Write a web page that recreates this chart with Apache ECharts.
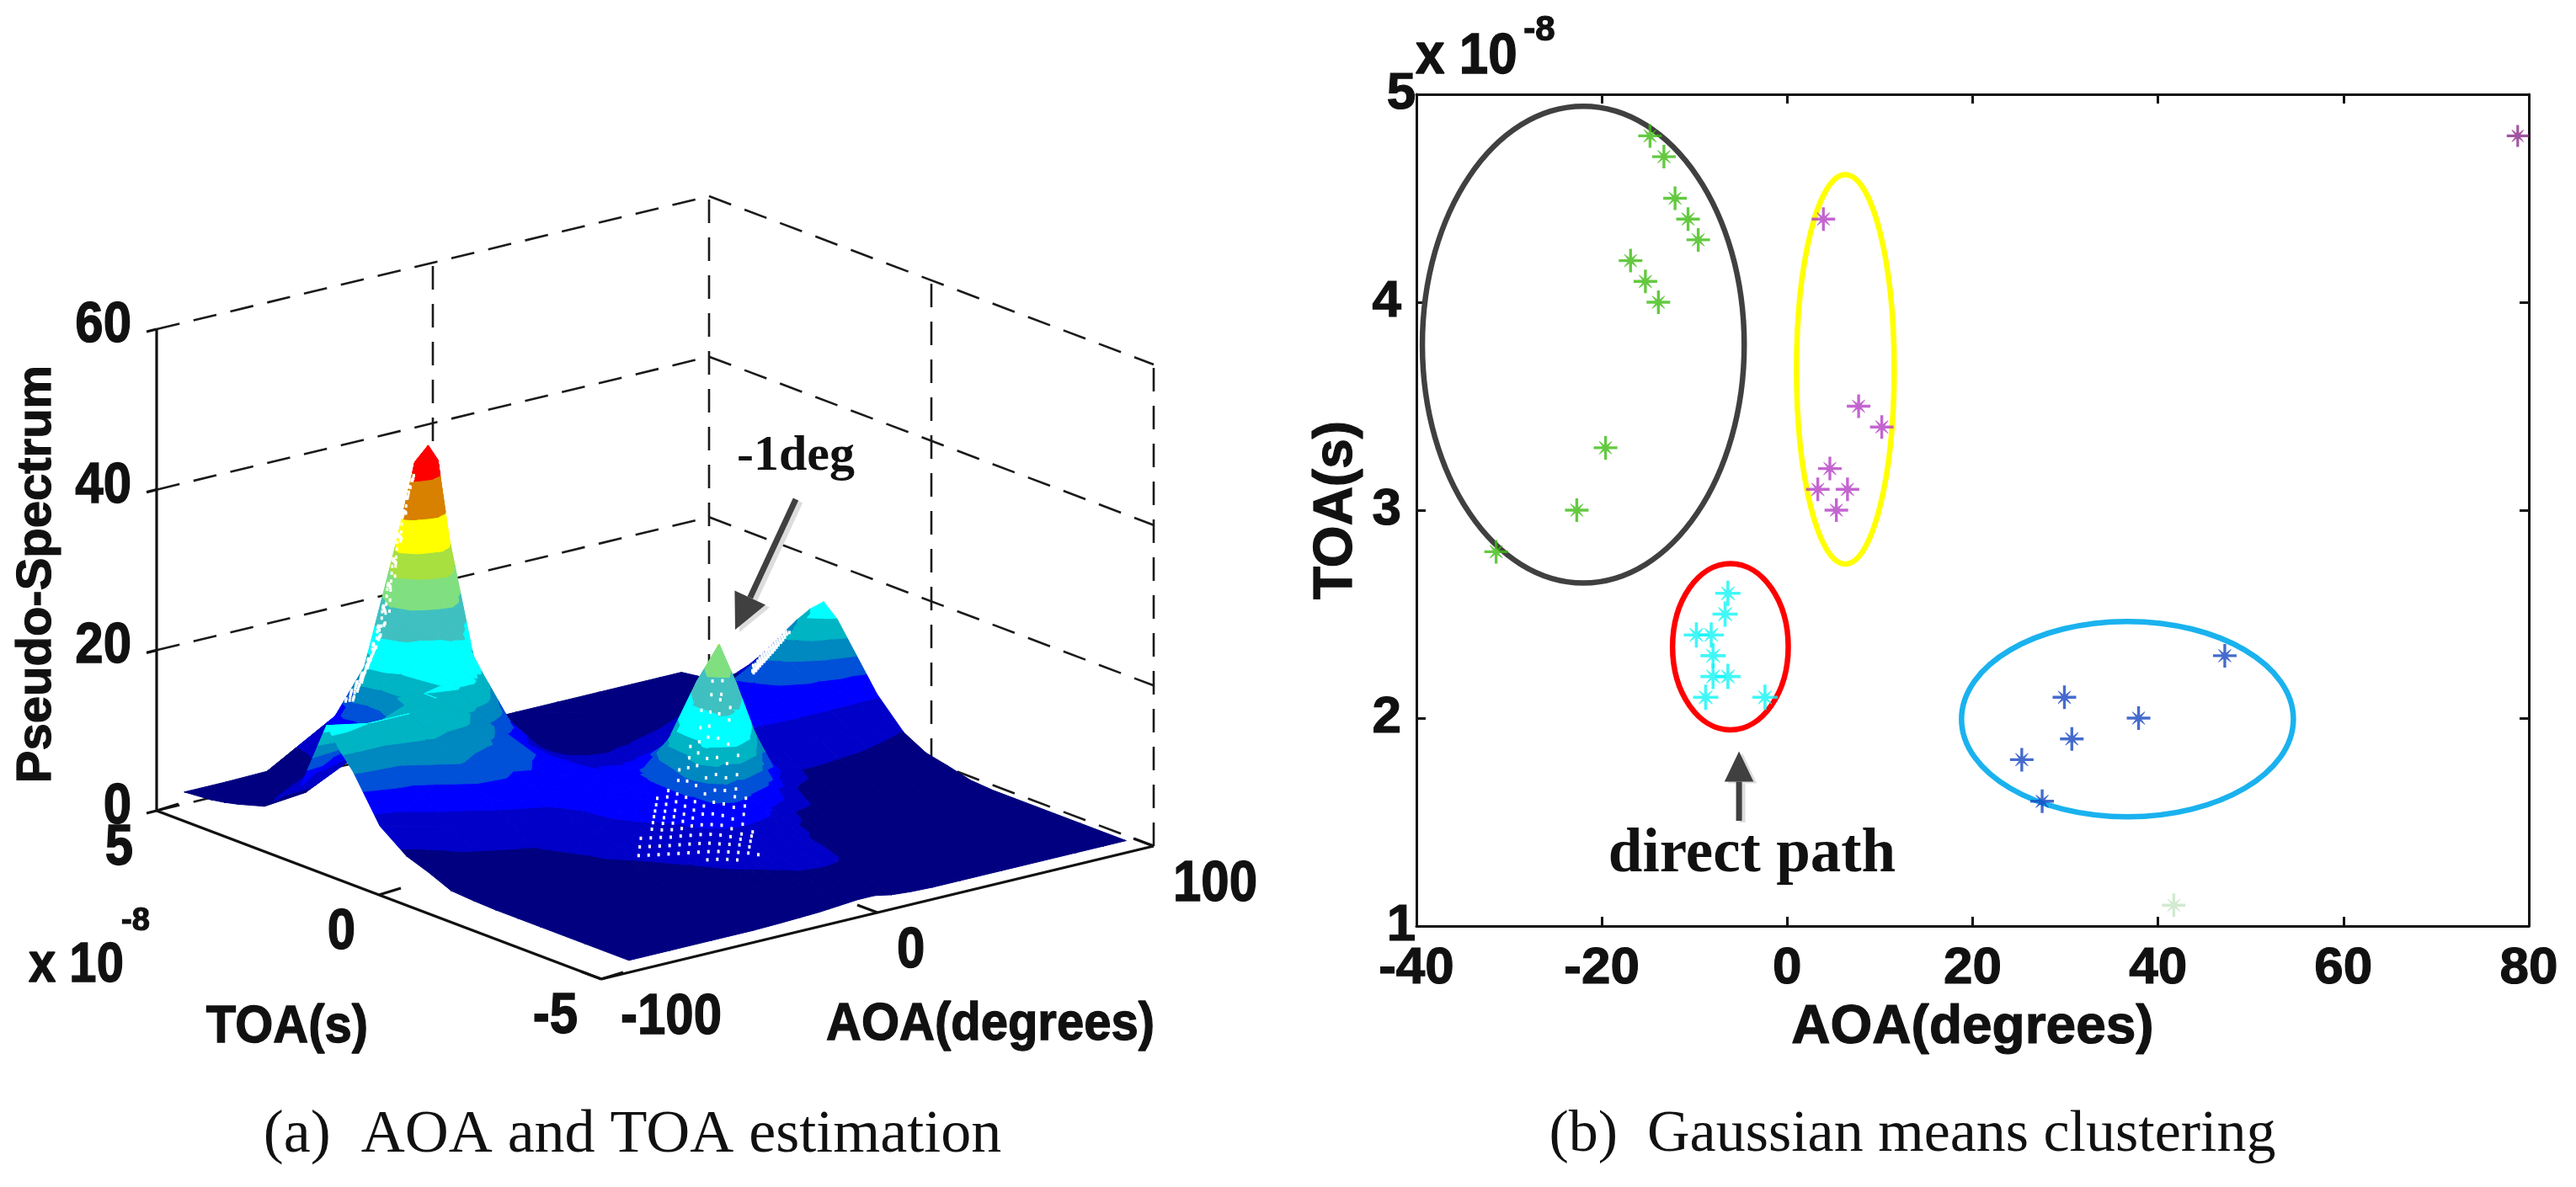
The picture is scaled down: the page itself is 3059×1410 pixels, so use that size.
<!DOCTYPE html>
<html><head><meta charset="utf-8">
<style>html,body{margin:0;padding:0;background:#fff}#c{width:3059px;height:1410px}</style>
<script src="https://cdn.jsdelivr.net/npm/echarts@6/dist/echarts.min.js"></script>
</head><body><div id="c"></div>
<script>
// ---------- (a) surface data ----------
const aoaGrid = [-90,-75,-60,-45,-35,-28,-24.5,-21,-17.5,-14,-7,-1,5,12,20,30,45,60,72,82,90];
const toaGrid = [5,4.4,4.1,3.8,3.5,3.2,2.4,2.1,1.8,1.5,1.2,0.6,0,-0.5,-1,-1.5,-2,-2.5,-3,-4,-5];
const spectrum = [
[1.5,1.5,1.6,2,3,5,6,7,6,5,3,2,1.6,1.5,1.5,1.5,1.5,1.5,1.5,1.5,1.5],
[1.8,1.9,2.5,8.5,13,18.7,23.6,28.6,28,25,14,4,2,1.7,1.6,1.5,1.5,1.5,1.6,1.7,2],
[2.1,2.4,3.5,10,16.9,28.9,33.7,38.8,37,31,14,5,2.5,1.8,1.7,1.6,1.5,1.5,1.7,2.1,2.7],
[2.5,3,5,14,22,36.7,40,41.5,39.4,30.3,15.6,8,4,2,1.7,1.6,1.5,1.6,1.8,2.6,3.8],
[3,3.5,5.5,13,20,26,28,30,27,20,10.5,6,3.5,2.2,1.8,1.6,1.5,1.7,2.2,3.3,5.5],
[3.5,4,6.5,13,17,18,20,21,18,13,7,4.5,3,2.5,2,1.7,1.6,1.8,2.8,4.5,7.5],
[7.5,11,13.5,15.5,16,16,15,13.5,11.5,9.5,6,4.5,3.8,3.4,3,2.8,3,4.5,7.5,10.5,13.5],
[12,13.5,14.5,15.5,15,14,13,11.5,9.5,8,6,4.8,4.2,3.9,3.8,4,5,7,10,13,15.5],
[16.5,15.5,15.5,15,13,11,10,9,8,7,6,5.2,4.8,4.6,5,6,8,10.5,13,15,17],
[14,14,14.5,14,12,10.5,9.5,8.8,8,7,6,5.4,5,4.8,5.1,6,8,10,12,14,15.5],
[12,12.5,13.5,12.5,11,10,9,8.5,7.8,7,6,5.6,5.2,5,5.2,6,8,9.5,11,12,13],
[6.5,9,11.8,10.5,10,9.5,9,8.5,8,7.5,7,7,6.5,7,7.5,7.5,7.8,8,8,8,8],
[4,6.5,8.5,9,9.5,9,8.8,8.5,8.2,8,8.5,9,10,11,10.5,9,6.5,6,5.5,5,4.5],
[3,5,6.5,8,9,9,9,9,9,9,10,12.5,14,14.5,11,7,4.6,4.3,4,3.5,3],
[1.8,2.5,4.5,7,9,9,9.2,9.5,10.5,12,15.5,20.5,23,18,11,5.2,3.8,3.4,3.2,2.8,2.4],
[1.6,2,3.5,6.5,8.8,9,9.4,9.8,11.5,13,21,26.2,21,14,8,4.5,2.5,2,1.8,1.7,1.7],
[1.5,1.7,3,5.5,7.5,8,8.6,9.8,13,16,20.5,18,13,6.5,4.2,3,2,1.7,1.6,1.5,1.5],
[1.5,1.6,2.2,4,6,7.5,8.5,9.5,10.5,11.5,10.5,8.5,6.5,4.6,3,2,1.6,1.5,1.5,1.5,1.5],
[1.5,1.5,1.7,2.8,4.6,6,6.5,7,7,7,6.5,5.8,5,3.8,2.5,1.8,1.5,1.5,1.5,1.5,1.5],
[1.5,1.5,1.5,1.8,2.6,3.2,3.6,4,4.5,5,5.2,5,4.2,2.8,2,1.6,1.5,1.5,1.5,1.5,1.5],
[1.5,1.5,1.5,1.5,1.6,1.7,1.75,1.8,1.9,2,2.2,2.2,1.8,1.6,1.5,1.5,1.5,1.5,1.5,1.5,1.5]
];
const bandLevels = [0,4.6,7.7,10,11.8,13.6,15.5,19,22.5,26,29,33,37.5,99];
const bandColors = ['#000080','#0000c8','#0000ff','#0050d8','#0088c0','#00b4c4','#00ffff','#40c0c0','#80e080','#a8e040','#ffff00','#d88000','#ff0000'];
const zTicks3d = [0,20,40,60];
const aoaTicks3d = [-100,0,100];
const toaTicks3d = [-5,0,5];

// ---------- (b) clusters ----------
const greenAoa = [-14.8,-13.3,-12.1,-10.7,-9.6,-16.9,-15.3,-13.9,-19.6,-22.7,-31.4];
const greenToa = [4.8,4.7,4.5,4.4,4.3,4.2,4.1,4.0,3.3,3.0,2.8];
const magentaAoa = [3.9,7.7,10.2,4.6,3.3,6.5,5.3];
const magentaToa = [4.4,3.5,3.4,3.2,3.1,3.1,3.0];
const purpleAoa = [78.8];
const purpleToa = [4.8];
const cyanAoa = [-6.4,-6.7,-9.8,-8.2,-8,-8,-6.4,-8.8,-2.4];
const cyanToa = [2.6,2.5,2.4,2.4,2.3,2.2,2.2,2.1,2.1];
const blueAoa = [47.2,29.9,37.9,30.7,25.3,27.5];
const blueToa = [2.3,2.1,2.0,1.9,1.8,1.6];
const paleAoa = [41.7];
const paleToa = [1.1];
const ellipseNames = ['black','yellow','red','blue'];
const ellipseCx = [-22,6.27,-6.13,36.7];
const ellipseCy = [3.796,3.677,2.343,1.995];
const ellipseRx = [17.36,5.27,6.24,17.9];
const ellipseRy = [1.146,0.936,0.40,0.47];
const ellipseColors = ['#404040','#ffff00','#ff0000','#1ab2ee'];
const xTicksB = [-40,80,20];
const yTicksB = [1,5,1];

// ---------- projection of panel (a) onto a flat plane axis ----------
const O=[714,1163],U=[656,-158],V=[-528,-200],W=-572;
function proj(a,t,z){const fa=(a+100)/200,ft=(t+5)/10;return [O[0]+U[0]*fa+V[0]*ft,O[1]+U[1]*fa+V[1]*ft+W*z/60];}

function clip(poly,lim,keepAbove){
  const out=[];
  for(let i=0;i<poly.length;i++){
    const p=poly[i],q=poly[(i+1)%poly.length];
    const pin=keepAbove?p[2]>=lim:p[2]<=lim, qin=keepAbove?q[2]>=lim:q[2]<=lim;
    if(pin) out.push(p);
    if(pin!==qin){const f=(lim-p[2])/(q[2]-p[2]);out.push([p[0]+(q[0]-p[0])*f,p[1]+(q[1]-p[1])*f,lim]);}
  }
  return out;
}
const polys=[];
function addTri(t){
  for(let k=0;k<bandColors.length;k++){
    let c=clip(t,bandLevels[k],true); if(c.length<3) continue;
    c=clip(c,bandLevels[k+1],false); if(c.length<3) continue;
    polys.push({color:bandColors[k],pts:c.map(v=>proj(v[0],v[1],v[2]))});
  }
}
for(let j=0;j<toaGrid.length-1;j++){
  for(let i=aoaGrid.length-2;i>=0;i--){
    const a0=aoaGrid[i],a1=aoaGrid[i+1],t1=toaGrid[j],t0=toaGrid[j+1];
    const v00=[a0,t0,spectrum[j+1][i]],v10=[a1,t0,spectrum[j+1][i+1]],v01=[a0,t1,spectrum[j][i]],v11=[a1,t1,spectrum[j][i+1]];
    addTri([v11,v01,v10]);
    addTri([v00,v10,v01]);
  }
}
// surface height at any mesh position (for the mesh-gap speckles only)
function heightAt(a,t){
  let i=aoaGrid.findIndex((v,k)=>k<aoaGrid.length-1&&a>=v&&a<=aoaGrid[k+1]);
  let j=toaGrid.findIndex((v,k)=>k<toaGrid.length-1&&t<=v&&t>=toaGrid[k+1]);
  if(i<0||j<0) return null;
  const fa=(a-aoaGrid[i])/(aoaGrid[i+1]-aoaGrid[i]),ft=(t-toaGrid[j])/(toaGrid[j+1]-toaGrid[j]);
  const z0=spectrum[j][i]*(1-fa)+spectrum[j][i+1]*fa,z1=spectrum[j+1][i]*(1-fa)+spectrum[j+1][i+1]*fa;
  return z0*(1-ft)+z1*ft;
}
const specks=[];
function speck(a0,a1,da,t0,t1,dt,keep){
  let i=0;
  for(let a=a0;a<=a1;a+=da,i++){let j=0;
    for(let t=t0;t<=t1;t+=dt,j++){
      if((i+j)%2) continue;
      const z=heightAt(a,t); if(z===null) continue;
      const p=proj(a,t,z);
      if(keep(p[0],p[1])) specks.push(p);
    }
  }
}
speck(-45,15,2,-3.6,-1.5,0.1,(x,y)=>{const w=(y-770)*0.28+6,c=848-(y-770)*0.09;return y>785&&y<1022&&Math.abs(x-c)<w;});
speck(60,90,1.5,2.2,3.2,0.05,(x,y)=>x>893&&x<945&&y>750&&y<862);
speck(-45,-21,1,3.8,4.4,0.05,(x,y)=>{const l=496-(y-546)*0.268;return y>560&&y<835&&x<l+24;});

// box of panel (a)
const boxDash=[],boxSolid=[];
const A0=-100,A1=100,T0=-5,T1=5;
zTicks3d.forEach(z=>{
  boxDash.push([proj(A0,T1,z),proj(A1,T1,z)]);
  boxDash.push([proj(A1,T1,z),proj(A1,T0,z)]);
  boxSolid.push([proj(A0,T1,z),[proj(A0,T1,z)[0]-12,proj(A0,T1,z)[1]+3]]);
});
[[0,T1],[A1,T1],[A1,0],[A1,T0]].forEach(p=>boxDash.push([proj(p[0],p[1],0),proj(p[0],p[1],60)]));
boxSolid.push([proj(A0,T1,0),proj(A0,T1,60)]);
boxSolid.push([proj(A0,T1,0),proj(A0,T0,0)]);
boxSolid.push([proj(A0,T0,0),proj(A1,T0,0)]);
toaTicks3d.forEach(t=>{const p=proj(A0,t,0);boxSolid.push([p,[p[0]+26,p[1]-8]]);});
aoaTicks3d.forEach(a=>{const p=proj(a,T0,0);boxSolid.push([p,[p[0]-24,p[1]-9]]);});

const sansBold='bold 58px "Liberation Sans"';
const tickFont='bold 60px "Liberation Sans"';
const texts3d=[];
zTicks3d.forEach(z=>{const p=proj(A0,T1,z);texts3d.push({s:String(z),x:p[0]-30,y:p[1]-4,align:'right',font:tickFont,sy:1.15,b:1});});
toaTicks3d.forEach(t=>{const p=proj(A0,t,0);texts3d.push({s:String(t),x:p[0]-28,y:p[1]+45,align:'right',font:tickFont,sy:1.15,b:1});});
aoaTicks3d.forEach(a=>{const p=proj(a,T0,0);texts3d.push({s:String(a),x:p[0]+23,y:p[1]+46,align:'left',font:tickFont,sy:1.15,b:1});});
texts3d.push({s:'x 10',x:34,y:1148,align:'left',font:sansBold,sy:1.15,b:1});
texts3d.push({s:'-8',x:161,y:1095,align:'center',font:'bold 38px "Liberation Sans"',b:1});
texts3d.push({s:'TOA(s)',x:341,y:1220,align:'center',font:sansBold,sy:1.1,b:1});
texts3d.push({s:'AOA(degrees)',x:1176,y:1217,align:'center',font:sansBold,sy:1.1,b:1});
texts3d.push({s:'Pseudo-Spectrum',x:44,y:682,align:'center',font:sansBold,rot:Math.PI/2,b:1});
texts3d.push({s:'-1deg',x:945,y:542,align:'center',font:'bold 60px "Liberation Serif"'});
texts3d.push({s:'(a)  AOA and TOA estimation',x:751,y:1349,align:'center',font:'72px "Liberation Serif"'});
texts3d.push({s:'(b)  Gaussian means clustering',x:2271,y:1349,align:'center',font:'70px "Liberation Serif"'});
texts3d.push({s:'x 10',x:1681,y:68,align:'left',font:'bold 62px "Liberation Sans"',sy:1.1,b:1});
texts3d.push({s:'-8',x:1828,y:36,align:'center',font:'bold 42px "Liberation Sans"',b:1});

function arrowEls(api,tail,tip,head,width,color,dx,dy){
  const a=api.coord(tail),b=api.coord(tip);
  const L=Math.hypot(b[0]-a[0],b[1]-a[1]),ux=(b[0]-a[0])/L,uy=(b[1]-a[1])/L;
  const bx=b[0]-ux*head,by=b[1]-uy*head,nx=-uy,ny=ux,hw=head*0.48;
  return [
    {type:'line',shape:{x1:a[0]+dx,y1:a[1]+dy,x2:bx+dx,y2:by+dy},style:{stroke:color,lineWidth:width}},
    {type:'polygon',shape:{points:[[b[0]+dx,b[1]+dy],[bx+nx*hw+dx,by+ny*hw+dy],[bx-nx*hw+dx,by-ny*hw+dy]]},style:{fill:color}}
  ];
}
const starPath='path://M44 0H56V44H100V56H56V100H44V56H0V44H44Z M24 22L50 42L76 22L78 24L58 50L78 76L76 78L50 58L24 78L22 76L42 50L22 24Z';
const scatter=(name,xs,ys,color,size)=>({name,type:'scatter',xAxisIndex:1,yAxisIndex:1,z:5,symbol:starPath,symbolSize:size,
  itemStyle:{color},data:xs.map((x,i)=>[x,ys[i]]),silent:true,animation:false});

const boldLabel={fontFamily:'Liberation Sans',fontWeight:'bold',color:'#111',textBorderColor:'#111',textBorderWidth:1.2};
const axisBase={gridIndex:1,axisLine:{onZero:false,lineStyle:{color:'#111',width:3}},axisTick:{inside:true,length:11,lineStyle:{color:'#111',width:3}},splitLine:{show:false}};
const option={
  backgroundColor:'#fff',animation:false,
  grid:[{left:0,top:0,width:3059,height:1410},{left:1682,top:112,width:1321,height:988}],
  xAxis:[
    {gridIndex:0,type:'value',min:0,max:3059,show:false},
    {...axisBase,type:'value',position:'bottom',min:xTicksB[0],max:xTicksB[1],interval:xTicksB[2],
      axisLabel:{...boldLabel,fontSize:62,margin:20,alignMinLabel:'center',alignMaxLabel:'center'},
      name:'AOA(degrees)',nameLocation:'middle',nameGap:121,nameTextStyle:{...boldLabel,fontSize:64,verticalAlign:'middle'}},
    {...axisBase,type:'value',position:'top',min:xTicksB[0],max:xTicksB[1],interval:xTicksB[2],axisLabel:{show:false}}
  ],
  yAxis:[
    {gridIndex:0,type:'value',min:0,max:1410,inverse:true,show:false},
    {...axisBase,type:'value',position:'left',min:yTicksB[0],max:yTicksB[1],interval:yTicksB[2],
      axisLabel:{...boldLabel,fontSize:62,margin:18,alignMinLabel:'middle',alignMaxLabel:'middle'},
      name:'TOA(s)',nameLocation:'middle',nameGap:95,nameTextStyle:{...boldLabel,fontSize:64,verticalAlign:'middle'}},
    {...axisBase,type:'value',position:'right',min:yTicksB[0],max:yTicksB[1],interval:yTicksB[2],axisLabel:{show:false}}
  ],
  series:[
    {type:'custom',name:'box dashed',xAxisIndex:0,yAxisIndex:0,silent:true,clip:false,z:1,data:boxDash.map((_,i)=>[i]),
      renderItem:(p,api)=>{const s=boxDash[api.value(0)],a=api.coord(s[0]),b=api.coord(s[1]);
        return {type:'line',shape:{x1:a[0],y1:a[1],x2:b[0],y2:b[1]},style:{stroke:'#1a1a1a',lineWidth:2.6,lineDash:[28,17]}};}},
    {type:'custom',name:'box solid',xAxisIndex:0,yAxisIndex:0,silent:true,clip:false,z:1,data:boxSolid.map((_,i)=>[i]),
      renderItem:(p,api)=>{const s=boxSolid[api.value(0)],a=api.coord(s[0]),b=api.coord(s[1]);
        return {type:'line',shape:{x1:a[0],y1:a[1],x2:b[0],y2:b[1]},style:{stroke:'#111',lineWidth:3.2}};}},
    {type:'custom',name:'surface',xAxisIndex:0,yAxisIndex:0,silent:true,clip:false,z:2,progressive:0,data:polys.map((_,i)=>[i]),
      renderItem:(p,api)=>{const q=polys[api.value(0)];
        return {type:'polygon',shape:{points:q.pts.map(v=>api.coord(v))},style:{fill:q.color,stroke:q.color,lineWidth:1}};}},
    {type:'custom',name:'mesh specks',xAxisIndex:0,yAxisIndex:0,silent:true,clip:false,z:3,progressive:0,data:specks.map((_,i)=>[i]),
      renderItem:(p,api)=>{const c=api.coord(specks[api.value(0)]);
        return {type:'rect',shape:{x:c[0]-1.5,y:c[1]-2,width:3,height:4},style:{fill:'#ffffff'}};}},
    {type:'custom',name:'arrow a',xAxisIndex:0,yAxisIndex:0,silent:true,clip:false,z:3,data:[[0]],
      renderItem:(p,api)=>({type:'group',children:[
        ...arrowEls(api,[945,593],[873,748],42,7,'#dddddd',5,3),
        ...arrowEls(api,[945,593],[873,748],42,7,'#404040',0,0)]})},
    {type:'custom',name:'texts',xAxisIndex:0,yAxisIndex:0,silent:true,clip:false,z:6,data:texts3d.map((_,i)=>[i]),
      renderItem:(p,api)=>{const t=texts3d[api.value(0)],c=api.coord([t.x,t.y]);
        return {type:'text',x:c[0],y:c[1],rotation:t.rot||0,scaleY:t.sy||1,style:{text:t.s,font:t.font,fill:'#111',align:t.align,verticalAlign:'middle',stroke:t.b?'#111':null,lineWidth:t.b?1.2:0}};}},
    {type:'custom',name:'ellipses',xAxisIndex:1,yAxisIndex:1,silent:true,clip:false,z:4,data:ellipseNames.map((_,i)=>[ellipseCx[i],ellipseCy[i],ellipseRx[i],ellipseRy[i],i]),
      renderItem:(p,api)=>{const c=api.coord([api.value(0),api.value(1)]),s=api.size([api.value(2),api.value(3)]);
        return {type:'ellipse',shape:{cx:c[0],cy:c[1],rx:s[0],ry:s[1]},style:{fill:'none',stroke:ellipseColors[api.value(4)],lineWidth:6.5}};}},
    {type:'custom',name:'arrow b',xAxisIndex:1,yAxisIndex:1,silent:true,clip:false,z:4,data:[[0]],
      renderItem:(p,api)=>({type:'group',children:[
        ...arrowEls(api,[-5.2,1.506],[-5.2,1.84],36,7,'#dddddd',4,2),
        ...arrowEls(api,[-5.2,1.506],[-5.2,1.84],36,7,'#404040',0,0)]})},
    {type:'custom',name:'direct path',xAxisIndex:1,yAxisIndex:1,silent:true,clip:false,z:6,data:[[-3.8,1.34]],
      renderItem:(p,api)=>{const c=api.coord([api.value(0),api.value(1)]);
        return {type:'text',x:c[0],y:c[1],style:{text:'direct path',font:'bold 73px "Liberation Serif"',fill:'#111',align:'center',verticalAlign:'middle'}};}},
    scatter('green',greenAoa,greenToa,'#3dbb12',28),
    scatter('magenta',magentaAoa,magentaToa,'#b43fc4',28),
    scatter('purple',purpleAoa,purpleToa,'#8a2b8a',26),
    scatter('cyan',cyanAoa,cyanToa,'#12f5f5',30),
    scatter('blue',blueAoa,blueToa,'#1646c0',28),
    scatter('pale',paleAoa,paleToa,'#c5e5c5',28)
  ]
};
echarts.init(document.getElementById('c')).setOption(option);
</script></body></html>
